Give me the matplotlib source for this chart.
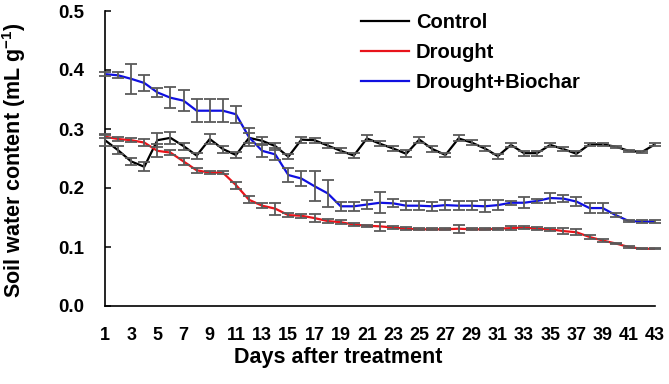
import matplotlib
matplotlib.use("Agg")
import matplotlib.pyplot as plt
import numpy as np

plt.rcParams['font.family'] = ['Liberation Sans', 'DejaVu Sans']
plt.rcParams['font.weight'] = 'bold'
plt.rcParams['mathtext.fontset'] = 'custom'
plt.rcParams['mathtext.rm'] = 'Liberation Sans:bold'
plt.rcParams['mathtext.bf'] = 'Liberation Sans:bold'

days = list(range(1, 44))
tick_days = list(range(1, 44, 2))

control = [0.281, 0.264, 0.245, 0.236, 0.281, 0.285, 0.271, 0.255, 0.283, 0.266,
           0.256, 0.285, 0.280, 0.271, 0.253, 0.282, 0.281, 0.272, 0.263, 0.255,
           0.284, 0.275, 0.267, 0.258, 0.282, 0.266, 0.256, 0.284, 0.277, 0.267,
           0.254, 0.273, 0.259, 0.259, 0.273, 0.266, 0.258, 0.274, 0.274, 0.270,
           0.263, 0.261, 0.274]
control_err = [0.010, 0.007, 0.006, 0.008, 0.012, 0.010, 0.006, 0.005, 0.008, 0.006,
               0.005, 0.008, 0.006, 0.006, 0.004, 0.005, 0.004, 0.005, 0.004, 0.004,
               0.005, 0.004, 0.005, 0.006, 0.005, 0.005, 0.004, 0.005, 0.004, 0.004,
               0.004, 0.003, 0.004, 0.004, 0.003, 0.004, 0.004, 0.002, 0.002, 0.002,
               0.002, 0.002, 0.002]

drought = [0.287, 0.283, 0.281, 0.277, 0.263, 0.260, 0.245, 0.230, 0.226, 0.226,
           0.205, 0.180, 0.170, 0.165, 0.154, 0.153, 0.149, 0.144, 0.142, 0.138,
           0.136, 0.135, 0.133, 0.131, 0.130, 0.130, 0.130, 0.131, 0.130, 0.130,
           0.131, 0.132, 0.133, 0.131, 0.130, 0.127, 0.125, 0.117, 0.111, 0.106,
           0.100, 0.097, 0.097]
drought_err = [0.003, 0.004, 0.003, 0.006, 0.011, 0.004, 0.006, 0.004, 0.003, 0.003,
               0.006, 0.006, 0.004, 0.010, 0.003, 0.003, 0.007, 0.003, 0.003, 0.003,
               0.002, 0.008, 0.003, 0.003, 0.002, 0.002, 0.002, 0.007, 0.002, 0.002,
               0.002, 0.003, 0.003, 0.003, 0.003, 0.005, 0.005, 0.003, 0.002, 0.001,
               0.001, 0.001, 0.001]

biochar = [0.393, 0.391, 0.385, 0.378, 0.362, 0.353, 0.348, 0.331, 0.331, 0.331,
           0.325, 0.286, 0.263, 0.257, 0.222, 0.216, 0.203, 0.191, 0.169, 0.169,
           0.172, 0.175, 0.174, 0.170, 0.170, 0.169, 0.171, 0.170, 0.170, 0.169,
           0.171, 0.175, 0.175, 0.178, 0.183, 0.182, 0.177, 0.166, 0.166, 0.154,
           0.144, 0.143, 0.143]
biochar_err = [0.004, 0.005, 0.025, 0.013, 0.007, 0.018, 0.018, 0.019, 0.019, 0.019,
               0.014, 0.015, 0.010, 0.010, 0.012, 0.013, 0.025, 0.023, 0.008, 0.008,
               0.008, 0.018, 0.007, 0.008, 0.008, 0.008, 0.009, 0.008, 0.008, 0.010,
               0.008, 0.003, 0.009, 0.003, 0.008, 0.006, 0.007, 0.008, 0.008, 0.003,
               0.002, 0.002, 0.002]

labels = ['Control', 'Drought', 'Drought+Biochar']
colors = ['#000000', '#e8141b', '#1010e0']
series = [control, drought, biochar]
errors = [control_err, drought_err, biochar_err]

fig = plt.figure(figsize=(6.69, 3.84), dpi=100)
ax = fig.add_axes([105 / 669, 1 - 306 / 384, 550 / 669, 295 / 384])

for vals, errs, col, lab in zip(series, errors, colors, labels):
    ax.plot(days, vals, color=col, lw=1.6, label=lab, zorder=3)
for vals, errs in zip(series, errors):
    ax.errorbar(days, vals, yerr=errs, fmt='none', ecolor='#5a5a5a',
                elinewidth=1.3, capsize=4.3, capthick=1.3, zorder=4, clip_on=False)

ax.set_xlim(1, 43)
ax.set_ylim(0, 0.5)
ax.set_xticks(tick_days)
ax.set_xticklabels([str(d) for d in tick_days], fontsize=13, fontweight='bold')
ax.set_yticks([0.0, 0.1, 0.2, 0.3, 0.4, 0.5])
ax.set_yticklabels(['0.0', '0.1', '0.2', '0.3', '0.4', '0.5'], fontsize=13.5, fontweight='bold')
ax.tick_params(axis='x', length=0, pad=15)
ax.tick_params(axis='y', direction='in', length=4, width=1.1, pad=15)

for s in ['top', 'right']:
    ax.spines[s].set_visible(False)
for s in ['left', 'bottom']:
    ax.spines[s].set_linewidth(1.2)

fig.text(338 / 669, 1 - 358 / 384, 'Days after treatment', fontsize=15.5,
         fontweight='bold', ha='center', va='center')
fig.text(14 / 669, 1 - 160 / 384, 'Soil water content (mL g$^{\\mathbf{-1}}$)',
         fontsize=15.5, fontweight='bold', ha='center', va='center', rotation=90)

leg = ax.legend(loc='upper right', bbox_to_anchor=(0.88, 1.02), frameon=False,
                fontsize=14.5, handlelength=2.4, handletextpad=0.35, labelspacing=0.55,
                borderaxespad=0)
for t in leg.get_texts():
    t.set_fontweight('bold')

fig.savefig('out.png', dpi=100)
